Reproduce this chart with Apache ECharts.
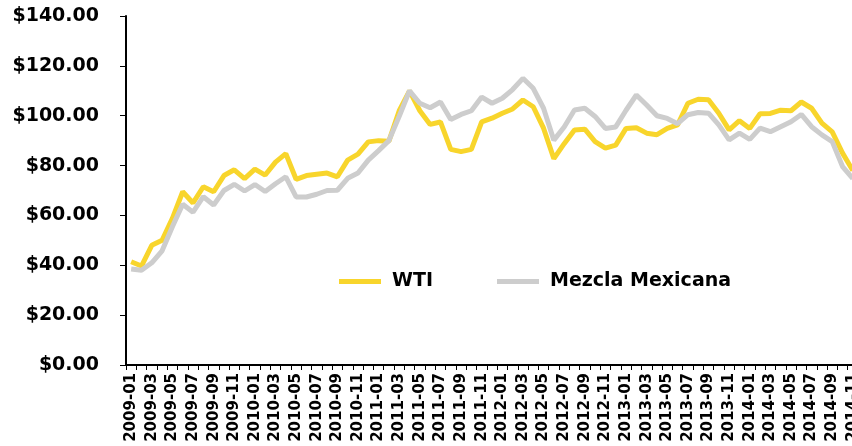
<!DOCTYPE html>
<html>
<head>
<meta charset="utf-8">
<script src="https://cdn.jsdelivr.net/npm/echarts@6/dist/echarts.min.js"></script>
<style>
  html, body { margin: 0; padding: 0; background: #fff; }
  #chart { width: 852px; height: 446px; }
</style>
</head>
<body>
<div id="chart"></div>
<script>
/* -------------------------------------------------------------------------- */
/* Data */
var years = ['2009', '2010', '2011', '2012', '2013', '2014'];
var months = ['01', '02', '03', '04', '05', '06', '07', '08', '09', '10', '11', '12'];
var lastMonth = '2014-11';

var seriesNames = ['WTI', 'Mezcla Mexicana'];

var wti = [
  41.4, 39.7, 48.0, 50.0, 58.8, 69.5, 65.0, 71.5, 69.5, 76.0, 78.3, 74.8,
  78.6, 76.2, 81.4, 84.8, 74.5, 76.0, 76.5, 77.0, 75.5, 82.2, 84.6, 89.5,
  90.0, 89.8, 102.0, 110.0, 102.0, 96.5, 97.5, 86.5, 85.6, 86.5, 97.5, 99.0,
  101.0, 102.7, 106.3, 103.6, 95.0, 82.8, 88.8, 94.3, 94.6, 89.6, 87.0, 88.2,
  94.9, 95.2, 93.0, 92.4, 94.9, 96.3, 105.0, 106.6, 106.4, 101.0, 94.3, 98.0,
  94.9, 100.8, 100.9, 102.2, 102.0, 105.5, 103.0, 97.0, 93.5, 85.0, 78.0
];

var mezcla = [
  38.5, 38.0, 41.0, 45.8, 55.5, 64.5, 61.3, 67.5, 64.2, 70.0, 72.5, 69.8,
  72.4, 69.6, 72.7, 75.5, 67.4, 67.4, 68.5, 70.0, 70.1, 74.9, 77.0, 82.2,
  86.0, 90.0, 99.8, 110.0, 105.0, 103.2, 105.5, 98.5, 100.5, 102.0, 107.5, 105.0,
  107.0, 110.5, 115.0, 111.0, 103.0, 90.2, 95.5, 102.3, 103.0, 99.7, 94.9, 95.5,
  102.2, 108.3, 104.3, 100.0, 98.9, 96.8, 100.4, 101.3, 101.0, 96.3, 90.3, 93.0,
  90.5, 95.0, 93.6, 95.6, 97.6, 100.5, 95.6, 92.3, 89.6, 79.6, 74.8
];

var yTicks = [0, 20, 40, 60, 80, 100, 120, 140];

// month labels 2009-01 .. 2014-11
var categories = [];
years.forEach(function (y) {
  months.forEach(function (m) {
    var c = y + '-' + m;
    if (c <= lastMonth) categories.push(c);
  });
});

/* -------------------------------------------------------------------------- */
/* Line chart */
var lineChartInit = function lineChartInit() {
  var $chartEl = document.getElementById('chart');
  var chart = echarts.init($chartEl, null, { renderer: 'canvas' });
  var font = '"DejaVu Sans", sans-serif';

  var option = {
    backgroundColor: '#fff',
    animation: false,
    grid: {
      left: 126,
      right: -6,
      top: 16,
      bottom: 81,
      outerBoundsMode: 'none'
    },
    legend: {
      left: 334,
      top: 267,
      icon: 'rect',
      itemWidth: 42,
      itemHeight: 5,
      itemGap: 64,
      data: seriesNames,
      textStyle: {
        fontFamily: font,
        fontWeight: 'bold',
        fontSize: 19,
        color: '#000',
        padding: [0, 0, 0, 6]
      }
    },
    xAxis: {
      type: 'category',
      data: categories,
      boundaryGap: true,
      axisLine: { lineStyle: { color: '#000', width: 2 } },
      axisTick: {
        show: true,
        interval: 0,
        length: 5,
        lineStyle: { color: '#000', width: 1 }
      },
      axisLabel: {
        interval: 1,
        rotate: 90,
        margin: 8,
        fontFamily: font,
        fontWeight: 'bold',
        fontSize: 15,
        color: '#000'
      },
      splitLine: { show: false }
    },
    yAxis: {
      type: 'value',
      min: yTicks[0],
      max: yTicks[yTicks.length - 1],
      interval: 20,
      axisLine: { show: true, lineStyle: { color: '#000', width: 2 } },
      axisTick: {
        show: true,
        length: 6,
        lineStyle: { color: '#000', width: 1 }
      },
      axisLabel: {
        margin: 27,
        fontFamily: font,
        fontWeight: 'bold',
        fontSize: 19,
        color: '#000',
        formatter: function (v) {
          return '$' + v.toFixed(2);
        }
      },
      splitLine: { show: false }
    },
    series: [
      {
        name: seriesNames[0],
        type: 'line',
        data: wti,
        symbol: 'none',
        z: 2,
        itemStyle: { color: '#F8D52C' },
        lineStyle: { color: '#F8D52C', width: 5 }
      },
      {
        name: seriesNames[1],
        type: 'line',
        data: mezcla,
        symbol: 'none',
        z: 3,
        itemStyle: { color: '#CDCDCD' },
        lineStyle: { color: '#CDCDCD', width: 5 }
      }
    ]
  };

  chart.setOption(option);
};
/* -------------------------------------------------------------------------- */

lineChartInit();
</script>
</body>
</html>
